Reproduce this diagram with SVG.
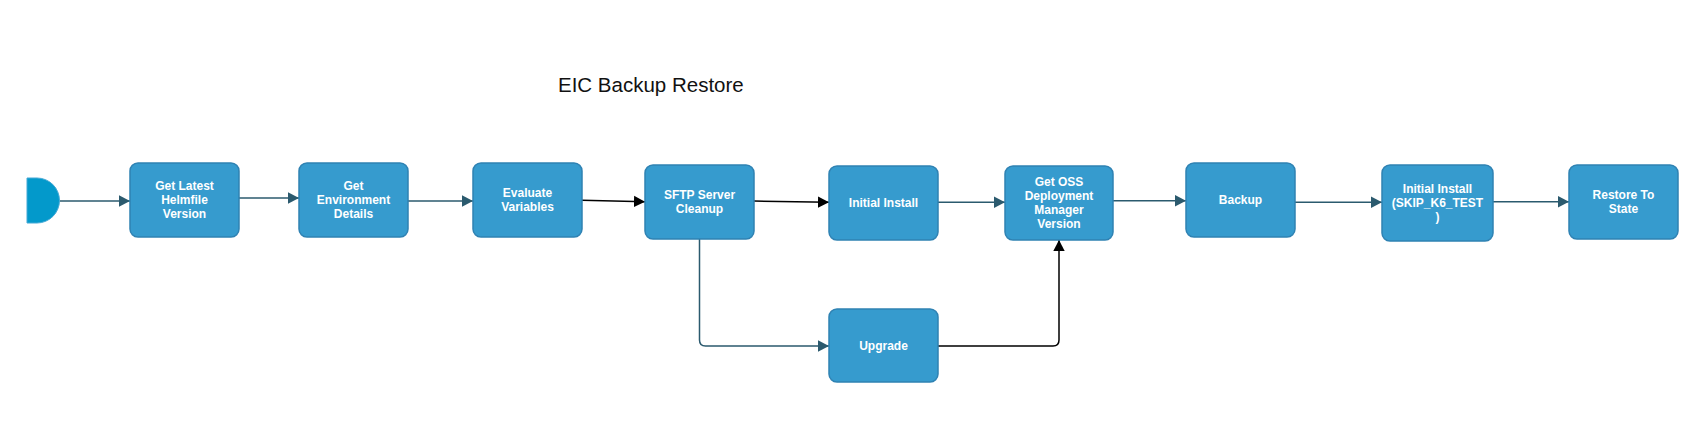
<svg xmlns="http://www.w3.org/2000/svg" width="1705" height="444" viewBox="0 0 1705 444">
<style>
.box{fill:#369bce;stroke:#2f82b3;stroke-width:1.5}
.lbl{font-family:"Liberation Sans",Arial,sans-serif;font-weight:bold;font-size:12px;fill:#ffffff;text-anchor:middle}
.ln{fill:none;stroke:#2b5a6e;stroke-width:1.5}
.lk{fill:none;stroke:#000000;stroke-width:1.5}
.title{font-family:"Liberation Sans",Arial,sans-serif;font-size:20.5px;fill:#111111}
</style>
<defs>
<marker id="as" markerWidth="11" markerHeight="12" refX="11" refY="6" orient="auto" markerUnits="userSpaceOnUse"><path d="M0,0.3 L11,6 L0,11.7 Z" fill="#2b5a6e"/></marker>
<marker id="ak" markerWidth="11" markerHeight="12" refX="11" refY="6" orient="auto" markerUnits="userSpaceOnUse"><path d="M0,0.3 L11,6 L0,11.7 Z" fill="#000000"/></marker>
</defs>
<rect width="1705" height="444" fill="#ffffff"/>
<text class="title" x="558" y="92">EIC Backup Restore</text>
<g id="connectors">
<path class="ln" d="M59.5,201 L130,201" marker-end="url(#as)"/>
<path class="ln" d="M239,198 L299,198" marker-end="url(#as)"/>
<path class="ln" d="M408,201 L473,201" marker-end="url(#as)"/>
<path class="lk" d="M582,200.3 L645,201.7" marker-end="url(#ak)"/>
<path class="lk" d="M754,201 L829,202.3" marker-end="url(#ak)"/>
<path class="ln" d="M938,202.3 L1005,202.3" marker-end="url(#as)"/>
<path class="ln" d="M1113,200.7 L1186,200.7" marker-end="url(#as)"/>
<path class="ln" d="M1295,202.3 L1382,202.3" marker-end="url(#as)"/>
<path class="ln" d="M1493,201.7 L1569,201.7" marker-end="url(#as)"/>
<path class="ln" d="M699.5,239 L699.5,340 Q699.5,346 705.5,346 L829,346" marker-end="url(#as)"/>
<path class="lk" d="M938,346 L1053,346 Q1059,346 1059,340 L1059,240" marker-end="url(#ak)"/>
</g>
<g id="start"><path d="M27,178 H37 A22.5,22.5 0 0 1 37,223 H27 Z" fill="#0399cb" stroke="#45a9d6" stroke-width="1"/></g>
<g id="n1"><rect class="box" x="130" y="163" width="109" height="74" rx="8"/><text class="lbl" x="184.5" y="190.3">Get Latest</text><text class="lbl" x="184.5" y="204.3">Helmfile</text><text class="lbl" x="184.5" y="218.3">Version</text></g>
<g id="n2"><rect class="box" x="299" y="163" width="109" height="74" rx="8"/><text class="lbl" x="353.5" y="190.3">Get</text><text class="lbl" x="353.5" y="204.3">Environment</text><text class="lbl" x="353.5" y="218.3">Details</text></g>
<g id="n3"><rect class="box" x="473" y="163" width="109" height="74" rx="8"/><text class="lbl" x="527.5" y="197.3">Evaluate</text><text class="lbl" x="527.5" y="211.3">Variables</text></g>
<g id="n4"><rect class="box" x="645" y="165" width="109" height="74" rx="8"/><text class="lbl" x="699.5" y="199.3">SFTP Server</text><text class="lbl" x="699.5" y="213.3">Cleanup</text></g>
<g id="n5"><rect class="box" x="829" y="166" width="109" height="74" rx="8"/><text class="lbl" x="883.5" y="207.3">Initial Install</text></g>
<g id="n6"><rect class="box" x="1005" y="166" width="108" height="74" rx="8"/><text class="lbl" x="1059" y="186.3">Get OSS</text><text class="lbl" x="1059" y="200.3">Deployment</text><text class="lbl" x="1059" y="214.3">Manager</text><text class="lbl" x="1059" y="228.3">Version</text></g>
<g id="n7"><rect class="box" x="1186" y="163" width="109" height="74" rx="8"/><text class="lbl" x="1240.5" y="204.3">Backup</text></g>
<g id="n8"><rect class="box" x="1382" y="165" width="111" height="76" rx="8"/><text class="lbl" x="1437.5" y="193.3">Initial Install</text><text class="lbl" x="1437.5" y="207.3">(SKIP_K6_TEST</text><text class="lbl" x="1437.5" y="221.3">)</text></g>
<g id="n9"><rect class="box" x="1569" y="165" width="109" height="74" rx="8"/><text class="lbl" x="1623.5" y="199.3">Restore To</text><text class="lbl" x="1623.5" y="213.3">State</text></g>
<g id="n10"><rect class="box" x="829" y="309" width="109" height="73" rx="8"/><text class="lbl" x="883.5" y="350.3">Upgrade</text></g>
</svg>
